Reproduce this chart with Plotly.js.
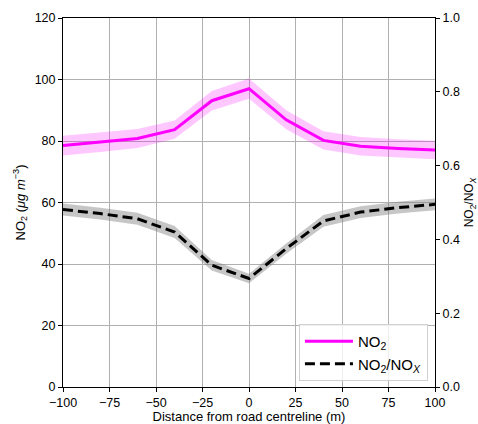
<!DOCTYPE html>
<html><head><meta charset="utf-8">
<script src="https://cdn.plot.ly/plotly-3.0.1.min.js"></script>
<style>body{margin:0}#c{width:478px;height:424px}</style>
</head><body><div id="c"></div>
<script>
const distance = [-100, -80, -60, -40, -20, 0, 20, 40, 60, 80, 100];
const no2 = [78.5, 79.6, 80.8, 83.7, 93.1, 97.0, 86.9, 80.2, 78.3, 77.6, 77.1];
const no2Err = [3.2, 3.2, 3.1, 3.0, 3.2, 3.3, 3.1, 3.0, 3.0, 3.0, 3.0];
const ratio = [0.481, 0.470, 0.456, 0.420, 0.330, 0.294, 0.375, 0.450, 0.474, 0.486, 0.495];
const ratioErr = [0.016, 0.016, 0.016, 0.016, 0.014, 0.013, 0.014, 0.016, 0.016, 0.016, 0.016];

function band(x, y, e) {
  const up = y.map((v, i) => v + e[i]);
  const lo = y.map((v, i) => v - e[i]);
  return {x: x.concat(x.slice().reverse()), y: up.concat(lo.slice().reverse())};
}
const b1 = band(distance, no2, no2Err);
const b2 = band(distance, ratio, ratioErr);
const font = {family: 'Liberation Sans, Arial, sans-serif', size: 13, color: '#000'};
const tickFont = {family: font.family, size: 12.5, color: '#000'};
const traces = [
  {x: b1.x, y: b1.y, fill: 'toself', fillcolor: 'rgba(255,0,255,0.22)', line: {width: 0}, mode: 'lines', showlegend: false, hoverinfo: 'skip'},
  {x: b2.x, y: b2.y, yaxis: 'y2', fill: 'toself', fillcolor: 'rgba(128,128,128,0.45)', line: {width: 0}, mode: 'lines', showlegend: false, hoverinfo: 'skip'},
  {x: distance, y: no2, mode: 'lines', name: 'NO<sub>2</sub>', line: {color: '#ff00ff', width: 3}},
  {x: distance, y: ratio, yaxis: 'y2', mode: 'lines', name: 'NO<sub>2</sub>/NO<sub><i>X</i></sub>', line: {color: '#000', width: 3, dash: '10px,5px'}}
];
const layout = {
  width: 478, height: 424,
  margin: {l: 63, r: 43, t: 18, b: 37},
  paper_bgcolor: '#fff', plot_bgcolor: '#fff',
  font: font,
  showlegend: true,
  legend: {x: 0.981, y: 0.016, xanchor: 'right', yanchor: 'bottom', bgcolor: 'rgba(255,255,255,0.8)', bordercolor: '#d0d0d0', borderwidth: 1, font: {family: font.family, size: 15, color: '#000'}, itemwidth: 48, tracegroupgap: 2},
  xaxis: {range: [-100, 100], tickvals: [-100, -75, -50, -25, 0, 25, 50, 75, 100], ticktext: ['−100','−75','−50','−25','0','25','50','75','100'],
    showgrid: true, gridcolor: '#b0b0b0', gridwidth: 1, zeroline: false, showline: true, linecolor: '#000', linewidth: 1, mirror: true,
    ticks: 'outside', ticklen: 4, tickcolor: '#000', tickfont: tickFont,
    title: {text: 'Distance from road centreline (m)', font: font, standoff: 5}},
  yaxis: {range: [0, 120], tickvals: [0, 20, 40, 60, 80, 100, 120],
    showgrid: true, gridcolor: '#b0b0b0', gridwidth: 1, zeroline: false, showline: true, linecolor: '#000', linewidth: 1,
    ticks: 'outside', ticklen: 4, tickcolor: '#000', tickfont: tickFont,
    title: {text: 'NO<sub>2</sub> (<i>μg m</i><sup>−3</sup>)', font: font, standoff: 6}},
  yaxis2: {range: [0, 1], overlaying: 'y', side: 'right', tickvals: [0, 0.2, 0.4, 0.6, 0.8, 1.0], ticktext: ['0.0','0.2','0.4','0.6','0.8','1.0'],
    showgrid: false, zeroline: false, showline: true, linecolor: '#000', linewidth: 1,
    ticks: 'outside', ticklen: 4, tickcolor: '#000', tickfont: tickFont,
    title: {text: 'NO<sub>2</sub>/NO<sub><i>X</i></sub>', font: {family: font.family, size: 12, color: '#000'}, standoff: 6}}
};
Plotly.newPlot('c', traces, layout, {displayModeBar: false, staticPlot: true});
</script></body></html>
